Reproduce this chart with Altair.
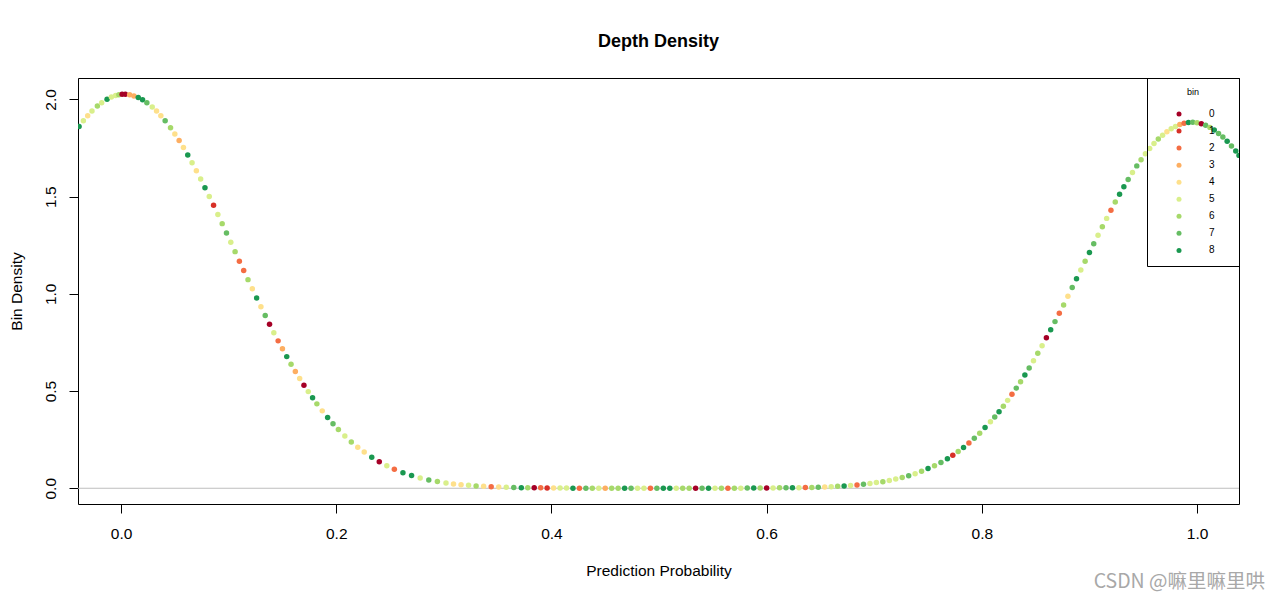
import altair as alt
import pandas as pd

# ---- data (x = prediction probability, y = density) ----
x_vals = [
    -0.039, -0.035, -0.031, -0.027, -0.022, -0.018, -0.013, -0.009, -0.005, -0.002,
    0.001, 0.004, 0.008, 0.012, 0.016, 0.020, 0.024, 0.029, 0.033, 0.037,
    0.041, 0.046, 0.050, 0.054, 0.058, 0.062, 0.066, 0.070, 0.074, 0.078,
    0.082, 0.086, 0.090, 0.094, 0.098, 0.102, 0.106, 0.110, 0.114, 0.118,
    0.122, 0.126, 0.130, 0.134, 0.138, 0.142, 0.146, 0.150, 0.154, 0.158,
    0.162, 0.166, 0.170, 0.174, 0.178, 0.182, 0.187, 0.192, 0.197, 0.202,
    0.208, 0.214, 0.220, 0.226, 0.233, 0.240, 0.247, 0.254, 0.262, 0.270,
    0.278, 0.286, 0.294,
    0.302, 0.309, 0.316, 0.323, 0.330, 0.337, 0.344, 0.351, 0.358, 0.365,
    0.372, 0.378, 0.384, 0.390, 0.396, 0.402, 0.408, 0.414, 0.420, 0.426,
    0.432, 0.438, 0.444, 0.450, 0.456, 0.462, 0.468, 0.474, 0.480, 0.486,
    0.492, 0.498, 0.504, 0.510, 0.516, 0.522, 0.528, 0.534, 0.540, 0.546,
    0.552, 0.558, 0.564, 0.570, 0.576, 0.582, 0.588, 0.594, 0.600, 0.606,
    0.612, 0.618, 0.624, 0.630, 0.636, 0.642, 0.648, 0.654, 0.660, 0.666,
    0.672, 0.678, 0.684, 0.690, 0.696,
    0.702, 0.708, 0.714, 0.720, 0.726, 0.732, 0.738, 0.744, 0.750, 0.756,
    0.762, 0.768, 0.773, 0.778, 0.783, 0.788, 0.793, 0.798, 0.803, 0.808,
    0.812, 0.816, 0.820, 0.824, 0.828, 0.832, 0.836, 0.840, 0.844, 0.848,
    0.852, 0.856, 0.860, 0.864, 0.868, 0.872, 0.876, 0.880, 0.884, 0.888,
    0.892, 0.896, 0.900, 0.904, 0.908, 0.912, 0.916, 0.920, 0.924, 0.928,
    0.932, 0.936, 0.940, 0.944, 0.948, 0.952, 0.956, 0.960, 0.964, 0.968,
    0.972, 0.976, 0.980, 0.984, 0.988, 0.992, 0.996, 1.000, 1.004, 1.008,
    1.012, 1.016, 1.020, 1.024, 1.028, 1.032, 1.036, 1.039,
]

density = [
    1.861, 1.890, 1.916, 1.940, 1.966, 1.983, 2.001, 2.012, 2.020, 2.024,
    2.026, 2.026, 2.024, 2.018, 2.010, 1.998, 1.983, 1.961, 1.940, 1.916,
    1.890, 1.854, 1.822, 1.788, 1.752, 1.714, 1.674, 1.633, 1.590, 1.546,
    1.501, 1.455, 1.408, 1.361, 1.313, 1.265, 1.217, 1.168, 1.120, 1.073,
    1.026, 0.979, 0.933, 0.888, 0.844, 0.800, 0.758, 0.717, 0.677, 0.638,
    0.601, 0.565, 0.530, 0.497, 0.465, 0.434, 0.398, 0.364, 0.332, 0.302,
    0.269, 0.238, 0.211, 0.186, 0.159, 0.136, 0.116, 0.098, 0.080, 0.066,
    0.053, 0.043, 0.035,
    0.027, 0.022, 0.018, 0.015, 0.012, 0.010, 0.008, 0.006, 0.005, 0.004,
    0.003, 0.002, 0.002, 0.002, 0.001, 0.001, 0.001, 0.001, 0.000, 0.000,
    0.000, 0.000, 0.000, 0.000, 0.000, 0.000, 0.000, 0.000, 0.000, 0.000,
    0.000, 0.000, 0.000, 0.000, 0.000, 0.000, 0.000, 0.000, 0.000, 0.000,
    0.000, 0.000, 0.000, 0.000, 0.000, 0.001, 0.001, 0.001, 0.001, 0.001,
    0.002, 0.002, 0.002, 0.003, 0.004, 0.004, 0.005, 0.007, 0.008, 0.010,
    0.012, 0.014, 0.017, 0.020, 0.024,
    0.029, 0.034, 0.040, 0.047, 0.055, 0.064, 0.075, 0.087, 0.101, 0.116,
    0.133, 0.152, 0.170, 0.189, 0.210, 0.233, 0.257, 0.283, 0.312, 0.342,
    0.367, 0.394, 0.422, 0.452, 0.483, 0.515, 0.548, 0.583, 0.619, 0.656,
    0.694, 0.733, 0.774, 0.815, 0.857, 0.900, 0.943, 0.987, 1.032, 1.077,
    1.122, 1.167, 1.212, 1.257, 1.301, 1.345, 1.388, 1.430, 1.472, 1.512,
    1.551, 1.588, 1.624, 1.658, 1.690, 1.720, 1.747, 1.773, 1.796, 1.816,
    1.834, 1.849, 1.861, 1.871, 1.877, 1.881, 1.882, 1.880, 1.875, 1.867,
    1.856, 1.842, 1.825, 1.806, 1.785, 1.760, 1.734, 1.712,
]

bins = [
    8, 5, 4, 5, 6, 5, 8, 5, 5, 6, 0, 0, 3, 3, 8, 8, 7, 5, 4, 4,
    7, 6, 4, 3, 4, 8, 5, 4, 5, 8, 5, 1, 5, 6, 7, 5, 6, 2, 2, 6,
    4, 8, 4, 7, 0, 5, 2, 3, 8, 6, 3, 4, 0, 5, 8, 6, 4, 8, 7, 6,
    5, 6, 4, 4, 8, 0, 5, 2, 8, 8, 5, 7, 6,
    5, 4, 4, 5, 6, 4, 2, 4, 5, 7, 8, 6, 0, 2, 1, 4, 5, 5, 8, 2,
    7, 6, 5, 3, 6, 6, 8, 7, 5, 5, 2, 7, 8, 8, 5, 6, 6, 0, 7, 8,
    5, 6, 2, 6, 5, 7, 8, 6, 0, 5, 6, 7, 8, 5, 2, 6, 7, 4, 5, 6,
    8, 5, 2, 7, 5,
    5, 6, 5, 5, 6, 7, 5, 6, 8, 6, 7, 8, 1, 6, 8, 2, 7, 6, 8, 5,
    7, 8, 6, 5, 2, 7, 6, 8, 7, 5, 6, 5, 0, 8, 7, 2, 6, 4, 7, 8,
    5, 6, 8, 7, 5, 6, 5, 2, 6, 8, 8, 7, 5, 7, 6, 5, 5, 5, 6, 5,
    4, 5, 5, 3, 2, 8, 7, 6, 0, 7, 6, 8, 7, 7, 8, 7, 8, 8,
]

bin_levels = ["0", "1", "2", "3", "4", "5", "6", "7", "8"]
bin_colors = ["#A50026", "#D73027", "#F46D43", "#FDAE61", "#FEE08B",
              "#D9EF8B", "#A6D96A", "#66BD63", "#1A9850"]
x_ticks = [0.0, 0.2, 0.4, 0.6, 0.8, 1.0]
y_ticks = [0.0, 0.5, 1.0, 1.5, 2.0]
watermark_text = ["CSDN @嘛里嘛里哄"]

df = pd.DataFrame({"x": x_vals, "density": density, "bin": [str(b) for b in bins]})

FONT = "Liberation Sans"
W, H = 1161, 426

xscale = alt.Scale(domain=[-0.04, 1.039], nice=False, zero=False)
yscale = alt.Scale(domain=[-0.081, 2.11], nice=False, zero=False)

y_enc = alt.Y(
    "density:Q", scale=yscale, title="Bin Density",
    axis=alt.Axis(values=y_ticks, format=".1f", labelAngle=270,
                  labelAlign="center", labelBaseline="bottom",
                  labelPadding=11, titlePadding=19),
)

zero_line = alt.Chart(pd.DataFrame({"density": [0.0]})).mark_rule(
    color="#BEBEBE", strokeWidth=1
).encode(y=y_enc)

# blank braille cells (not trimmed as whitespace) widen the legend box to the right
pad = "\u2800\u2800"

points = alt.Chart(df).mark_circle(size=30, opacity=1, clip=True).encode(
    x=alt.X("x:Q", scale=xscale, title="Prediction Probability",
            axis=alt.Axis(values=x_ticks, format=".1f", labelPadding=13,
                          titlePadding=22)),
    y=y_enc,
    color=alt.Color(
        "bin:N",
        scale=alt.Scale(domain=bin_levels, range=bin_colors),
        legend=alt.Legend(
            title="bin", orient="none", legendX=1069, legendY=0,
            strokeColor="black", padding=10, symbolType="circle",
            symbolSize=25, symbolStrokeWidth=0, symbolOffset=17,
            labelOffset=25, labelFontSize=10, labelFont=FONT,
            labelColor="black", titleFont=FONT, titleFontSize=9,
            titleFontWeight="normal", titleColor="black",
            titleAnchor="middle", titlePadding=12, rowPadding=7.05,
            labelExpr="datum.label + '" + pad + "'",
        ),
    ),
)

watermark = alt.Chart(pd.DataFrame({"t": watermark_text})).mark_text(
    align="right", baseline="middle", font="Noto Sans CJK SC",
    fontSize=19.5, color="#A8A8A8"
).encode(text="t:N", x=alt.value(1187), y=alt.value(504))

chart = alt.layer(zero_line, points, watermark).properties(
    width=W, height=H,
    padding={"left": 70, "top": 70, "right": 33, "bottom": 90},
    autosize=alt.AutoSizeParams(type="none"),
    background="white",
    title=alt.TitleParams("Depth Density", font=FONT, fontSize=18,
                          fontWeight="bold", color="black", anchor="middle",
                          baseline="alphabetic", offset=13),
).configure_view(
    stroke="black", strokeWidth=1
).configure_axis(
    domain=False, grid=False, tickColor="black", tickSize=9, tickWidth=1,
    labelFont=FONT, labelFontSize=15.5, labelColor="black",
    titleFont=FONT, titleFontSize=15.5, titleFontWeight="normal",
    titleColor="black",
)

chart.save("out.html", embed_options={"renderer": "svg", "actions": False})
